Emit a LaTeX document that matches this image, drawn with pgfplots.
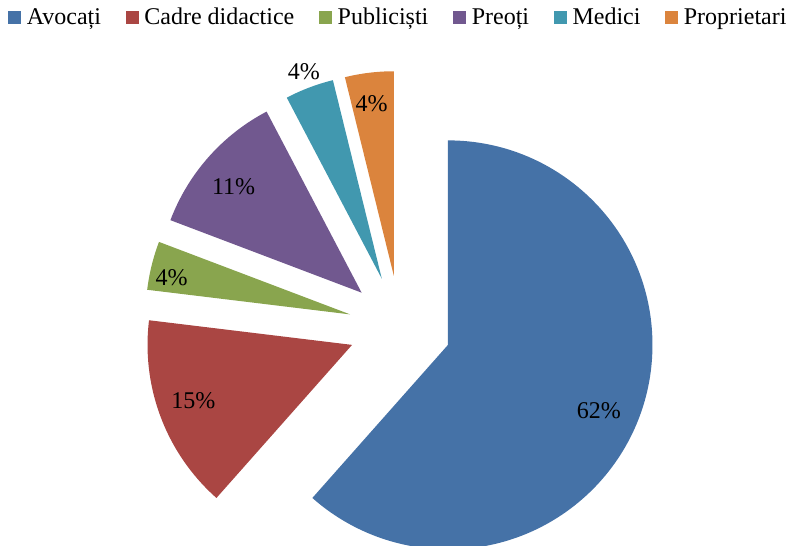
\documentclass[border=0pt]{standalone}
\usepackage{pgfplots}
\pgfplotsset{compat=1.18}
\usepackage{pgfplotstable}
\usepackage{fontspec}
\setmainfont{Liberation Serif}
\definecolor{cA}{HTML}{4572A7}
\definecolor{cB}{HTML}{AA4643}
\definecolor{cC}{HTML}{89A54E}
\definecolor{cD}{HTML}{71588F}
\definecolor{cE}{HTML}{4198AF}
\definecolor{cF}{HTML}{DB843D}
% value = count (total 26); lab = printed percentage; ld = label distance (fraction of radius); sx, sy = small label shifts
\pgfplotstableread{
name value col lab ld sx sy
Avocati 16 cA 62 0.80 -2 -8
Cadre 4 cB 15 0.82 -2 4
Publicisti 1 cC 4 0.90 0 -7
Preoti 3 cD 11 0.81 -4 -4
Medici 1 cE 4 1.09 1 -1
Proprietari 1 cF 4 0.86 -1 -2
}\piedata
\begin{document}
\begin{tikzpicture}
\begin{axis}[
  name=ax,
  hide axis, x=0.5pt, y=0.5pt,
  xmin=0, xmax=790, ymin=0, ymax=545,
  clip=false,
  font=\fontsize{12}{14}\selectfont,
  legend columns=6,
  legend style={at={(axis cs:8,537)}, anchor=north west, draw=none, fill=none,
    inner sep=0pt, outer sep=0pt, font=\fontsize{12}{14}\selectfont,
    nodes={inner sep=0pt},
    /tikz/every odd column/.append style={column sep=3pt},
    /tikz/every even column/.append style={column sep=12.3pt}},
]
\addlegendimage{legend image code/.code={\fill[cA] (0pt,-3pt) rectangle (6pt,3pt);}}
\addlegendentry{Avocați}
\addlegendimage{legend image code/.code={\fill[cB] (0pt,-3pt) rectangle (6pt,3pt);}}
\addlegendentry{Cadre didactice}
\addlegendimage{legend image code/.code={\fill[cC] (0pt,-3pt) rectangle (6pt,3pt);}}
\addlegendentry{Publiciști}
\addlegendimage{legend image code/.code={\fill[cD] (0pt,-3pt) rectangle (6pt,3pt);}}
\addlegendentry{Preoți}
\addlegendimage{legend image code/.code={\fill[cE] (0pt,-3pt) rectangle (6pt,3pt);}}
\addlegendentry{Medici}
\addlegendimage{legend image code/.code={\fill[cF] (0pt,-3pt) rectangle (6pt,3pt);}}
\addlegendentry{Proprietari}
\pgfplotstablegetrowsof{\piedata}
\pgfmathtruncatemacro\N{\pgfplotsretval-1}
\gdef\curang{90}
\pgfplotsforeachungrouped \i in {0,...,\N}{%
  \pgfplotstablegetelem{\i}{value}\of\piedata \let\val\pgfplotsretval
  \pgfplotstablegetelem{\i}{col}\of\piedata \let\colr\pgfplotsretval
  \pgfplotstablegetelem{\i}{lab}\of\piedata \let\labtxt\pgfplotsretval
  \pgfplotstablegetelem{\i}{ld}\of\piedata \let\ldist\pgfplotsretval
  \pgfplotstablegetelem{\i}{sx}\of\piedata \let\shx\pgfplotsretval
  \pgfplotstablegetelem{\i}{sy}\of\piedata \let\shy\pgfplotsretval
  \pgfmathsetmacro\aone{\curang}
  \pgfmathsetmacro\atwo{\curang-360*\val/26}
  \pgfmathsetmacro\amid{(\aone+\atwo)/2}
  \pgfmathsetmacro\px{400+51.3*cos(\amid)}
  \pgfmathsetmacro\py{218.3+51.3*sin(\amid)}
  \pgfmathsetmacro\qx{\px+204.5*cos(\aone)}
  \pgfmathsetmacro\qy{\py+204.5*sin(\aone)}
  \pgfmathsetmacro\lx{\px+\ldist*204.5*cos(\amid)+\shx}
  \pgfmathsetmacro\ly{\py+\ldist*204.5*sin(\amid)+\shy}
  \edef\temp{\noexpand\fill[\colr] (axis cs:\px,\py) -- (axis cs:\qx,\qy) arc[start angle=\aone, end angle=\atwo, radius=102.25pt] -- cycle;
    \noexpand\node[inner sep=0pt] at (axis cs:\lx,\ly) {\labtxt\noexpand\%};}
  \temp
  \xdef\curang{\atwo}
}
\end{axis}
\pgfresetboundingbox
\path (ax.south west) rectangle (ax.north east);
\end{tikzpicture}
\end{document}
